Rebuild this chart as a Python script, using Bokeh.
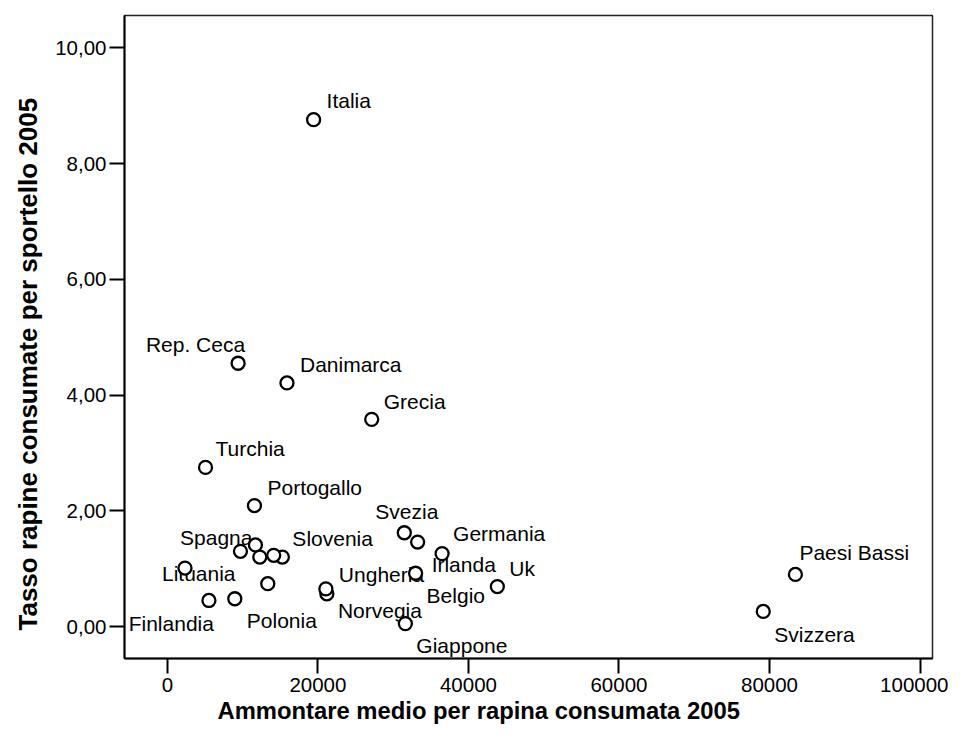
from bokeh.plotting import figure
from bokeh.models import Range1d, FixedTicker, ColumnDataSource, Title
from bokeh.core.properties import value
from bokeh.embed import file_html
from bokeh.resources import INLINE

# ---- data ----
countries = ["Italia", "Rep. Ceca", "Danimarca", "Grecia", "Turchia", "Portogallo",
             "Svezia", "Spagna", "Slovenia", "Germania", "Irlanda", "Lituania", "Uk",
             "Ungheria", "Norvegia", "Belgio", "Finlandia", "Polonia", "Giappone",
             "Paesi Bassi", "Svizzera", "", "", "", ""]
amount = [19430, 9400, 15890, 27150, 5070, 11570,
          31480, 9710, 15280, 36500, 33250, 2340, 43840,
          21190, 21060, 32980, 5520, 8960, 31620,
          83440, 79170, 11700, 12280, 14130, 13340]
rate = [8.76, 4.55, 4.21, 3.58, 2.75, 2.09,
        1.62, 1.30, 1.20, 1.26, 1.46, 1.01, 0.69,
        0.565, 0.65, 0.92, 0.45, 0.48, 0.05,
        0.90, 0.26, 1.41, 1.20, 1.23, 0.74]

x_ticks = [0, 20000, 40000, 60000, 80000, 100000]
x_tick_labels = ["0", "20000", "40000", "60000", "80000", "100000"]
y_ticks = [0, 2, 4, 6, 8, 10]
y_tick_labels = ["0,00", "2,00", "4,00", "6,00", "8,00", "10,00"]

x_title = "Ammontare medio per rapina consumata 2005"
y_title = "Tasso rapine consumate per sportello 2005"

# ---- label placement (screen pixels, style only) ----
label_dx = [13, 7, 13, 12, 10, 13, -29, 12, 10, 11, 14, -23, 12, 12, 12, 11, 5, 12, 11, 4, 11, 0, 0, 0, 0]
label_dy = [-19, -19, -18, -18, -19, -18, -21, -14, -19, -20, 22, 5, -18, -19, 22, 22, 23, 22, 22, -22, 23, 0, 0, 0, 0]
label_align = ["left", "right", "left", "left", "left", "left", "left", "right", "left", "left",
               "left", "left", "left", "left", "left", "left", "right", "left", "left", "left",
               "left", "left", "left", "left", "left"]

FONT = "Liberation Sans"

src = ColumnDataSource(dict(x=amount, y=rate, label=countries,
                            dx=label_dx, dy=label_dy, align=label_align))

p = figure(width=948, height=728, output_backend="svg", toolbar_location=None,
           x_range=Range1d(-5695, 101656), y_range=Range1d(-0.553, 10.56),
           min_border_left=122, min_border_right=16, min_border_top=15, min_border_bottom=70)

p.background_fill_color = "white"
p.border_fill_color = "white"
p.outline_line_color = "#222222"
p.outline_line_width = 1.5
p.xgrid.visible = False
p.ygrid.visible = False

for ax, ticks, labels in ((p.xaxis[0], x_ticks, x_tick_labels), (p.yaxis[0], y_ticks, y_tick_labels)):
    ax.ticker = FixedTicker(ticks=ticks)
    ax.major_label_overrides = {t: l for t, l in zip(ticks, labels)}
    ax.minor_tick_line_color = None
    ax.major_tick_in = 0
    ax.major_tick_out = 15
    ax.major_tick_line_width = 2
    ax.major_tick_line_color = "black"
    ax.axis_line_color = "black"
    ax.axis_line_width = 2
    ax.major_label_text_font = FONT
    ax.major_label_text_font_size = "20.5px"
    ax.major_label_text_color = "black"

p.xaxis.major_label_standoff = 4
p.yaxis.major_label_standoff = 3

p.add_layout(Title(text=x_title, align="left", offset=93, text_font=FONT, text_color="black",
                   text_font_size="23.8px", text_font_style="bold", standoff=0), "below")
p.add_layout(Title(text=y_title, align="left", offset=28, text_font=FONT, text_color="black",
                   text_font_size="26px", text_font_style="bold", standoff=20), "left")

p.text(x="x", y="y", text="label", x_offset="dx", y_offset="dy", text_align="align",
       text_baseline="middle", text_font=value(FONT), text_font_size=value("21px"),
       text_color="black", source=src)

p.scatter(x="x", y="y", marker="circle", size=13, fill_color="white",
          line_color="black", line_width=2.3, source=src)

open("out.html", "w").write(file_html(p, INLINE))
